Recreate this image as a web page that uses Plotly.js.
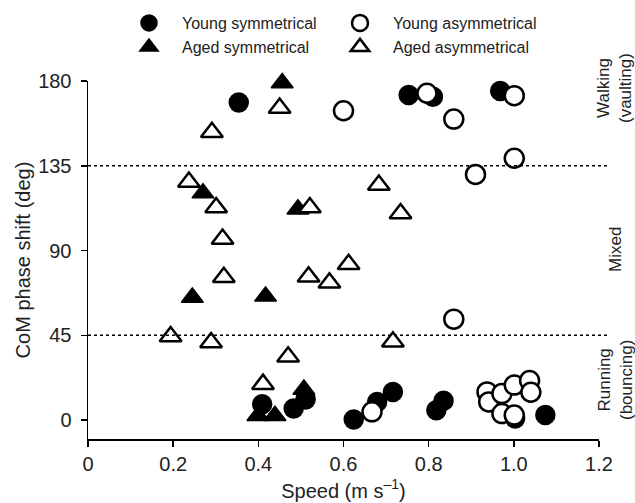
<!DOCTYPE html>
<html>
<head>
<meta charset="utf-8">
<script src="https://cdn.plot.ly/plotly-3.0.1.min.js"></script>
<style>html,body{margin:0;padding:0;background:#fff;}#chart{width:635px;height:503px;}</style>
</head>
<body>
<div id="chart"></div>
<script>
// Young symmetrical (filled circles)
const youngSymX = [0.354, 0.753, 0.810, 0.968, 0.409, 0.483, 0.511, 0.624, 0.679, 0.716, 0.818, 0.835, 1.003, 1.074];
const youngSymY = [168.6, 172.6, 171.7, 174.7, 8.5, 6.2, 11.0, 0.4, 9.7, 15.0, 5.3, 10.3, 0.9, 2.7];
// Young asymmetrical (open circles)
const youngAsymX = [0.600, 0.796, 0.859, 1.001, 1.001, 0.910, 0.859, 0.667, 0.937, 0.941, 0.972, 1.001, 1.037, 1.040, 0.972, 1.001];
const youngAsymY = [164.2, 173.5, 159.8, 172.2, 139.0, 130.4, 53.6, 4.4, 15.0, 9.7, 14.1, 18.6, 21.0, 14.8, 3.5, 2.7];
// Aged symmetrical (filled triangles)
const agedSymX = [0.456, 0.270, 0.493, 0.245, 0.417, 0.399, 0.439, 0.507];
const agedSymY = [179.0, 120.5, 112.0, 65.1, 65.7, 2.3, 2.3, 16.3];
// Aged asymmetrical (open triangles)
const agedAsymX = [0.450, 0.291, 0.237, 0.301, 0.521, 0.316, 0.319, 0.518, 0.567, 0.612, 0.683, 0.734, 0.194, 0.289, 0.470, 0.716, 0.411];
const agedAsymY = [165.7, 152.8, 126.4, 112.9, 112.9, 96.1, 75.8, 76.1, 72.9, 82.7, 124.8, 109.7, 44.4, 41.2, 33.6, 41.6, 19.1];

const xTickVals = [0, 0.2, 0.4, 0.6, 0.8, 1.0, 1.2];
const xTickText = ['0', '0.2', '0.4', '0.6', '0.8', '1.0', '1.2'];
const yTickVals = [0, 45, 90, 135, 180];
const boundaries = [45, 135];
const regionLabels = ['Walking<br>(vaulting)', 'Mixed', 'Running<br>(bouncing)'];

const FONT = 'Liberation Sans, Arial, Helvetica, sans-serif';
const circSize = 19, triSize = 19;

const traces = [
  {x: agedSymX, y: agedSymY, name: 'Aged symmetrical', type: 'scatter', mode: 'markers', cliponaxis: false,
   legend: 'legend3',
   marker: {symbol: 'triangle-up', size: triSize, color: '#000', line: {color: '#000', width: 1.5}}},
  {x: youngSymX, y: youngSymY, name: 'Young symmetrical', type: 'scatter', mode: 'markers', cliponaxis: false,
   legend: 'legend',
   marker: {symbol: 'circle', size: circSize, color: '#000', line: {color: '#000', width: 1.5}}},
  {x: agedAsymX, y: agedAsymY, name: 'Aged asymmetrical', type: 'scatter', mode: 'markers', cliponaxis: false,
   legend: 'legend4',
   marker: {symbol: 'triangle-up', size: triSize, color: '#fff', line: {color: '#000', width: 2.5}}},
  {x: youngAsymX, y: youngAsymY, name: 'Young asymmetrical', type: 'scatter', mode: 'markers', cliponaxis: false,
   legend: 'legend2',
   marker: {symbol: 'circle', size: circSize, color: '#fff', line: {color: '#000', width: 2.5}}}
];

function leg(x, y) {
  return {x: x, y: y, xref: 'paper', yref: 'paper', xanchor: 'left', yanchor: 'middle',
          bgcolor: 'rgba(0,0,0,0)', borderwidth: 0, itemwidth: 56, itemsizing: 'trace',
          font: {family: FONT, size: 16, color: '#222'}};
}

// plot area: x 88..599 (511 px), y 81..439 (358 px)
function px2paperX(px) { return (px - 88) / 511; }
function px2paperY(py) { return (439 - py) / 358; }

const shapes = boundaries.map(v => ({
  type: 'line', xref: 'paper', yref: 'y', x0: 0, x1: 1.018, y0: v, y1: v,
  line: {color: '#000', width: 1.5, dash: 'dot'}
}));

const annYs = [88, 250, 380];
const annotations = regionLabels.map((t, i) => ({
  text: t, xref: 'paper', yref: 'paper', x: px2paperX(615), y: px2paperY(annYs[i]), textangle: -90,
  showarrow: false, xanchor: 'center', yanchor: 'middle',
  font: {family: FONT, size: 17, color: '#222'}
}));

const layout = {
  width: 635, height: 503,
  margin: {l: 88, r: 36, t: 81, b: 64, autoexpand: false},
  paper_bgcolor: '#fff', plot_bgcolor: '#fff',
  font: {family: FONT, color: '#222', size: 20},
  showlegend: true,
  legend: leg(px2paperX(116), px2paperY(23)),
  legend2: leg(px2paperX(327), px2paperY(23)),
  legend3: leg(px2paperX(116), px2paperY(47)),
  legend4: leg(px2paperX(327), px2paperY(47)),
  xaxis: {
    range: [0, 1.2], tickvals: xTickVals, ticktext: xTickText,
    showgrid: false, zeroline: false, showline: true, linecolor: '#000', linewidth: 1.5,
    ticks: 'outside', ticklen: 6, tickwidth: 1.5, tickcolor: '#000',
    tickfont: {family: FONT, size: 20, color: '#222'},
    title: {text: 'Speed (m s<sup>–1</sup>)', font: {family: FONT, size: 20, color: '#222'}, standoff: 10},
    fixedrange: true
  },
  yaxis: {
    range: [-10, 180], tickvals: yTickVals,
    showgrid: false, zeroline: false, showline: true, linecolor: '#000', linewidth: 1.5,
    ticks: 'outside', ticklen: 6, tickwidth: 1.5, tickcolor: '#000', ticklabelstandoff: 5,
    tickfont: {family: FONT, size: 20, color: '#222'},
    title: {text: 'CoM phase shift (deg)', font: {family: FONT, size: 20, color: '#222'}, standoff: 2},
    fixedrange: true
  },
  shapes: shapes,
  annotations: annotations
};

Plotly.newPlot('chart', traces, layout, {displayModeBar: false, staticPlot: true});
</script>
</body>
</html>
